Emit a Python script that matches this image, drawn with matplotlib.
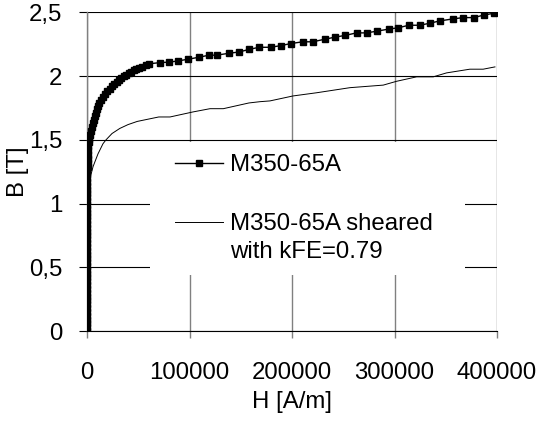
import matplotlib
matplotlib.use("Agg")
import matplotlib.pyplot as plt
from matplotlib.patches import Rectangle
from matplotlib.ticker import FixedLocator, FixedFormatter

plt.rcParams['font.family'] = ['Liberation Sans', 'DejaVu Sans']

# ---- data ----
# M350-65A: steep part near H = 0, knee, then sparse measured points
H_main = [0, 0, 0, 10, 10, 20, 20, 30, 30, 40, 40, 50, 60, 70, 80, 90,
          100, 110, 120, 130, 140, 150, 160, 170, 180, 190, 200, 215, 230,
          245, 260, 275, 290, 305, 320, 340, 360, 380, 400, 420, 440, 460,
          480, 500, 530, 560, 600,
          700, 1100, 1600, 2300, 2900, 3600, 4500, 5400, 6400, 7400, 8300,
          9300, 10500, 11800, 13500, 15500, 17500, 19800, 22000, 24300, 26800,
          29000, 31300, 33500, 35800, 38200, 40700, 43200, 45700, 48200,
          51000, 54000, 57500,
          60500, 71200, 80000, 88800, 98500, 109300, 119000, 126500,
          138500, 148300, 158000, 167800, 179200, 189000, 198700, 210400,
          220200, 231900, 241600, 251700, 263000, 272700, 282500, 294500,
          303600, 314000, 324700, 334500, 344200, 357200, 367000, 377400,
          387100, 396900]
B_main = [0.00, 0.03, 0.06, 0.09, 0.12, 0.15, 0.18, 0.21, 0.24, 0.27, 0.30,
          0.33, 0.36, 0.39, 0.42, 0.45, 0.48, 0.51, 0.54, 0.57, 0.60, 0.63,
          0.66, 0.69, 0.72, 0.75, 0.78, 0.81, 0.84, 0.87, 0.90, 0.93, 0.96,
          0.99, 1.02, 1.05, 1.08, 1.11, 1.14, 1.17, 1.20, 1.23, 1.26, 1.29,
          1.32, 1.35, 1.38,
          1.42, 1.45, 1.48, 1.51, 1.54, 1.57, 1.60, 1.63, 1.66, 1.69, 1.715,
          1.74, 1.765, 1.79, 1.815, 1.84, 1.86, 1.88, 1.90, 1.92, 1.94,
          1.955, 1.97, 1.985, 2.00, 2.012, 2.024, 2.035, 2.046, 2.056,
          2.066, 2.075, 2.085,
          2.097, 2.107, 2.11, 2.12, 2.133, 2.149, 2.165, 2.165,
          2.18, 2.19, 2.21, 2.227, 2.227, 2.24, 2.256, 2.27,
          2.27, 2.29, 2.306, 2.32, 2.34, 2.34, 2.353, 2.37,
          2.38, 2.40, 2.40, 2.416, 2.434, 2.45, 2.46, 2.46,
          2.48, 2.494]

# M350-65A sheared with kFE = 0.79
H_sheared = [0, 300, 1500, 3300, 5900, 10700, 15600, 18500, 24400, 32000,
             40000, 49000, 58000, 70000, 81000, 103700, 120000, 133000, 158000,
             168800, 178500, 201000, 224000, 256600, 289000, 302000, 321600,
             337800, 350800, 373500, 386500, 398000]
B_sheared = [0.0, 0.9, 1.15, 1.21, 1.29, 1.39, 1.47, 1.50, 1.55, 1.59,
             1.62, 1.645, 1.66, 1.68, 1.68, 1.72, 1.745, 1.745, 1.79,
             1.80, 1.806, 1.845, 1.87, 1.91, 1.93, 1.96, 1.995,
             1.995, 2.026, 2.055, 2.055, 2.073]

x_ticks = [0, 100000, 200000, 300000, 400000]
x_tick_labels = ['0', '100000', '200000', '300000', '400000']
y_ticks = [0, 0.5, 1.0, 1.5, 2.0, 2.5]
y_tick_labels = ['0', '0,5', '1', '1,5', '2', '2,5']

label_main = 'M350-65A'
label_sheared = 'M350-65A sheared'
label_sheared_2 = 'with kFE=0.79'

FS = 17.3

fig = plt.figure(figsize=(5.40, 4.23), dpi=100)
ax = fig.add_axes([87 / 540, 92 / 423, 410 / 540, 318.5 / 423])

ax.set_xlim(0, 400000)
ax.set_ylim(0, 2.5)

ax.set_axisbelow(True)
ax.yaxis.grid(True, color='black', linewidth=0.8)
ax.xaxis.grid(True, color='#808080', linewidth=1.0)

# white legend area hiding the gridlines
ax.add_patch(Rectangle((0.154, 0.176), 0.768, 0.416, transform=ax.transAxes,
                       facecolor='white', edgecolor='none', zorder=1.0))

ax.plot(H_main, B_main, color='black', linewidth=1.0, marker='s',
        markersize=3.8, markerfacecolor='black', markeredgecolor='black',
        markeredgewidth=1.0, label=label_main, zorder=3)
ax.plot(H_sheared, B_sheared, color='black', linewidth=0.7,
        label=label_sheared, zorder=2)

ax.xaxis.set_major_locator(FixedLocator(x_ticks))
ax.xaxis.set_major_formatter(FixedFormatter(x_tick_labels))
ax.yaxis.set_major_locator(FixedLocator(y_ticks))
ax.yaxis.set_major_formatter(FixedFormatter(y_tick_labels))

for s in ['top', 'right']:
    ax.spines[s].set_visible(False)
ax.spines['left'].set_color('#808080')
ax.spines['left'].set_linewidth(1.0)
ax.spines['bottom'].set_color('black')
ax.spines['bottom'].set_linewidth(0.8)

ax.tick_params(axis='y', direction='out', length=5.8, width=0.8, color='black',
               pad=12, labelsize=FS)
ax.tick_params(axis='x', direction='out', length=5.0, width=1.0, color='#808080',
               pad=17, labelsize=FS)

ax.set_xlabel('H [A/m]', fontsize=FS, labelpad=5)
ax.set_ylabel('B [T]', fontsize=FS, labelpad=0)

leg = ax.legend(loc='upper left', bbox_to_anchor=(0.2146, 0.555),
                frameon=False, fontsize=FS, handlelength=2.0,
                handletextpad=0.3, borderpad=0, borderaxespad=0,
                labelspacing=1.55)
leg.set_zorder(4)
ax.text((230 - 87) / 410, (331 - 252) / 318.5, label_sheared_2,
        transform=ax.transAxes, fontsize=FS, va='center', ha='left', zorder=4)

fig.savefig('out.png', dpi=100)
